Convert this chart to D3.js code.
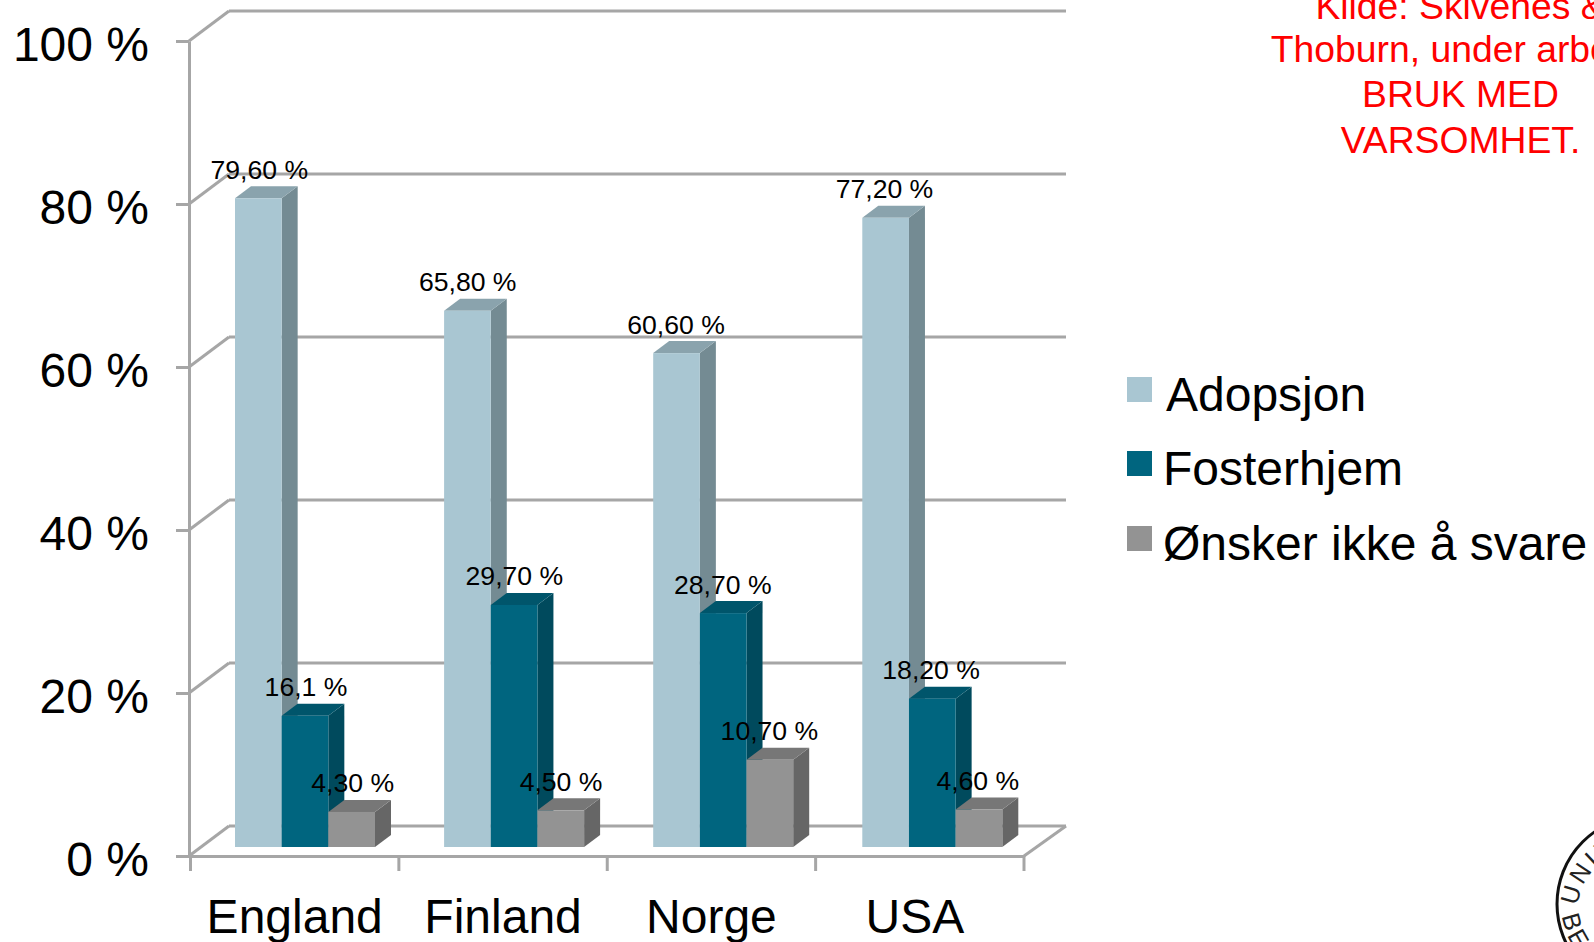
<!DOCTYPE html>
<html><head><meta charset="utf-8">
<script src="https://cdnjs.cloudflare.com/ajax/libs/d3/7.8.5/d3.min.js"></script>
<style>html,body{margin:0;padding:0;background:#fff;overflow:hidden}svg{display:block}text{font-family:"Liberation Sans",Arial,sans-serif}</style>
</head><body><svg id="c" width="1594" height="942"></svg>
<script>
const categories = ["England","Finland","Norge","USA"];
const seriesNames = ["Adopsjon","Fosterhjem","Ønsker ikke å svare"];
const adopsjon = [79.6,65.8,60.6,77.2];
const fosterhjem = [16.1,29.7,28.7,18.2];
const ikkeSvare = [4.3,4.5,10.7,4.6];
const adopsjonLabels = ["79,60 %","65,80 %","60,60 %","77,20 %"];
const fosterhjemLabels = ["16,1 %","29,70 %","28,70 %","18,20 %"];
const ikkeSvareLabels = ["4,30 %","4,50 %","10,70 %","4,60 %"];
const yTicks = [0,20,40,60,80,100];
const noteLines = ["Kilde: Skivenes &","Thoburn, under arbeid.","BRUK MED","VARSOMHET."];
const faceColors = ["#a9c6d2","#00657f","#939393"];
const sideColors = ["#748b93","#004a5d","#666666"];
const topColors = ["#8aa3ad","#00556b","#777777"];

const svg = d3.select("#c");
const axisColor = "#a6a6a6";
const dxWall = 40, dyWall = 30, dxBar = 16, dyBar = 12, barLift = 9;
const y = d3.scaleLinear().domain([0,100]).range([856,41]);
const x0 = d3.scaleBand().domain(categories).range([190.5,1024]);
const xBars = d3.scaleBand().domain(categories).range([235,1071.4]);
const x1 = d3.scaleBand().domain(d3.range(3)).range([0,140]);

const wall = svg.append("g").attr("fill","none").attr("stroke",axisColor).attr("stroke-width",3);
yTicks.forEach(t=>{
  wall.append("line").attr("x1",189).attr("y1",y(t)).attr("x2",189+dxWall).attr("y2",y(t)-dyWall);
  wall.append("line").attr("x1",189+dxWall).attr("y1",y(t)-dyWall).attr("x2",1066).attr("y2",y(t)-dyWall);
});
wall.append("line").attr("x1",1024).attr("y1",y(0)).attr("x2",1066).attr("y2",y(0)-dyWall);

const yAxis = d3.axisLeft(y).tickValues(yTicks).tickFormat(d=>d+" %").tickSize(13).tickPadding(27).tickSizeOuter(0);
const gy = svg.append("g").attr("transform","translate(189,0)").call(yAxis);
gy.selectAll("path,line").attr("stroke",axisColor).attr("stroke-width",3);
gy.selectAll("text").attr("font-size",48).attr("fill","#000").attr("dy","0.4em").attr("font-family","Liberation Sans");

const xAxis = d3.axisBottom(x0).tickSize(0).tickPadding(0).tickSizeOuter(0);
const gx = svg.append("g").attr("transform",`translate(0,${y(0)})`).call(xAxis);
gx.select("path").attr("stroke",axisColor).attr("stroke-width",3);
gx.selectAll("text").attr("font-size",48).attr("fill","#000").attr("y",77).attr("dy",0).attr("font-family","Liberation Sans")
  .attr("dx",d=>d==="USA"?-5:0);
const tickXs = [...categories.map(c=>x0(c)), x0.range()[1]];
svg.append("g").selectAll("line").data(tickXs).join("line")
  .attr("x1",d=>d).attr("x2",d=>d).attr("y1",y(0)).attr("y2",y(0)+15)
  .attr("stroke",axisColor).attr("stroke-width",3);

const series = [adopsjon,fosterhjem,ikkeSvare];
const labels = [adopsjonLabels,fosterhjemLabels,ikkeSvareLabels];
const gb = svg.append("g");
const gl = svg.append("g");
categories.forEach((c,ci)=>{
  series.forEach((vals,si)=>{
    const v = vals[ci];
    const L = xBars(c)+x1(si), w = x1.bandwidth();
    const R = L+w, T = y(v)-barLift, B = y(0)-barLift;
    const pts = a=>a.map(p=>p.join(",")).join(" ");
    gb.append("polygon").attr("fill",sideColors[si])
      .attr("points",pts([[R,T],[R+dxBar,T-dyBar],[R+dxBar,B-dyBar],[R,B]]));
    gb.append("polygon").attr("fill",topColors[si])
      .attr("points",pts([[L,T],[L+dxBar,T-dyBar],[R+dxBar,T-dyBar],[R,T]]));
    gb.append("rect").attr("x",L).attr("y",T).attr("width",w).attr("height",B-T).attr("fill",faceColors[si]);
    gl.append("text").attr("x",x0(c)+44.5+x1(si)+w/2+1).attr("y",T-19.5).attr("text-anchor","middle")
      .attr("font-size",26.6).attr("fill","#000").text(labels[si][ci]);
  });
});

const legendY = [377,451,526];
const legendX = [1166,1163,1163];
seriesNames.forEach((n,i)=>{
  svg.append("rect").attr("x",1127).attr("y",legendY[i]).attr("width",25).attr("height",25).attr("fill",faceColors[i]);
  svg.append("text").attr("x",legendX[i]).attr("y",legendY[i]+34).attr("font-size",48).attr("fill","#000").text(n);
});

const noteY = [19,62,107,153];
noteLines.forEach((t,i)=>{
  svg.append("text").attr("x",1460.5).attr("y",noteY[i]).attr("text-anchor","middle")
    .attr("font-size",37.3).attr("fill","#ff0000").text(t);
});

const cx=1645, cy=904, r=88;
svg.append("circle").attr("cx",cx).attr("cy",cy).attr("r",r).attr("fill","none").attr("stroke","#111").attr("stroke-width",3);
const defs = svg.append("defs");
defs.append("path").attr("id","arcTop").attr("d",`M${cx-67.5},${cy+2} A68,68 0 0 1 ${cx+67.5},${cy+2}`);
defs.append("path").attr("id","arcBot").attr("d",`M${cx-83},${cy+12} A84,84 0 0 0 ${cx+83},${cy+12}`);
svg.append("text").attr("font-family","Liberation Serif").attr("font-size",25).attr("fill","#222").attr("letter-spacing",3)
  .append("textPath").attr("href","#arcTop").text("UNIVERSITAS");
svg.append("text").attr("font-family","Liberation Serif").attr("font-size",25).attr("fill","#222").attr("letter-spacing",3)
  .append("textPath").attr("href","#arcBot").text("BERGENSIS");
</script></body></html>
